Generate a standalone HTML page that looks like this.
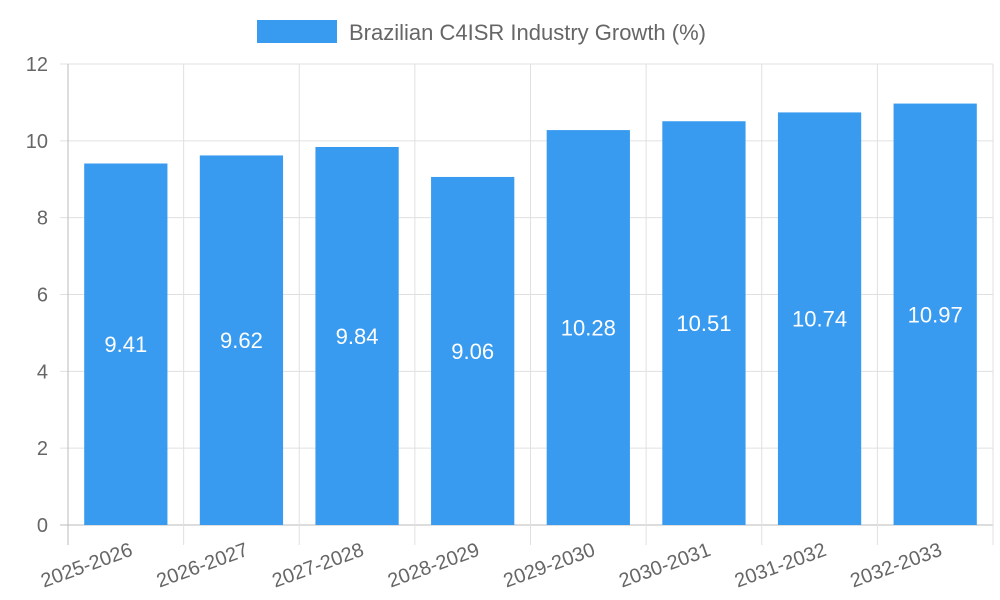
<!DOCTYPE html>
<html><head><meta charset="utf-8"><style>
html,body{margin:0;padding:0;background:#fff;}
svg{display:block;font-family:"Liberation Sans",sans-serif;}
</style></head><body>
<svg id="chart" width="1000" height="600"></svg>
<script>
const categories=["2025-2026","2026-2027","2027-2028","2028-2029","2029-2030","2030-2031","2031-2032","2032-2033"];
const growthValues=[9.41,9.62,9.84,9.06,10.28,10.51,10.74,10.97];
const yTicks=[0,2,4,6,8,10,12];
const seriesName="Brazilian C4ISR Industry Growth (%)";

const NS="http://www.w3.org/2000/svg";
const svg=document.getElementById('chart');
const L=68,R=993,T=64,B=525,yMax=12;
const band=(R-L)/categories.length;
const y=v=>B-(v/yMax)*(B-T);
const x=i=>L+i*band;
function mk(tag,attrs,parent){const e=document.createElementNS(NS,tag);for(const k in attrs)e.setAttribute(k,attrs[k]);(parent||svg).appendChild(e);return e;}

// legend
const leg=mk('g',{});


mk('rect',{x:257,y:20,width:80,height:23,fill:'#389bef'},leg);
const lt=mk('text',{x:349,y:40,'font-size':22,fill:'#666'},leg);
lt.textContent=seriesName;

// grid
const grid=mk('g',{});


yTicks.forEach(t=>{
  const yy=y(t);
  mk('line',{x1:60,x2:R,y1:yy,y2:yy,stroke:t===0?'#bbb':'#e0e0e0','stroke-width':1},grid);
  const tx=mk('text',{x:48,y:yy+7,'font-size':20,fill:'#666','text-anchor':'end'},grid);
  
  
  tx.textContent=t;
});
for(let i=0;i<=categories.length;i++){
  const xx=x(i);
  mk('line',{x1:xx,x2:xx,y1:T,y2:B+20,stroke:i===0?'#bbb':'#e0e0e0','stroke-width':1},grid);
}

// bars
categories.forEach((c,i)=>{
  const v=growthValues[i];
  const bw=band*0.72;
  const bx=x(i)+(band-bw)/2;
  const r=mk('rect',{x:bx,y:y(v),width:bw,height:B-y(v),fill:'#389bef'});
  
  
  const vt=mk('text',{x:bx+bw/2,y:(y(v)+B)/2+8,'font-size':22,fill:'#fff','text-anchor':'middle'});
  
  
  vt.textContent=v.toFixed(2);
  const cx=x(i)+band/2+8, cy=B+30;
  const xt=mk('text',{x:cx,y:cy,'font-size':20,fill:'#666','text-anchor':'end',transform:`rotate(-20 ${cx} ${cy})`});
  
  
  xt.textContent=c;
});
</script>
</body></html>
